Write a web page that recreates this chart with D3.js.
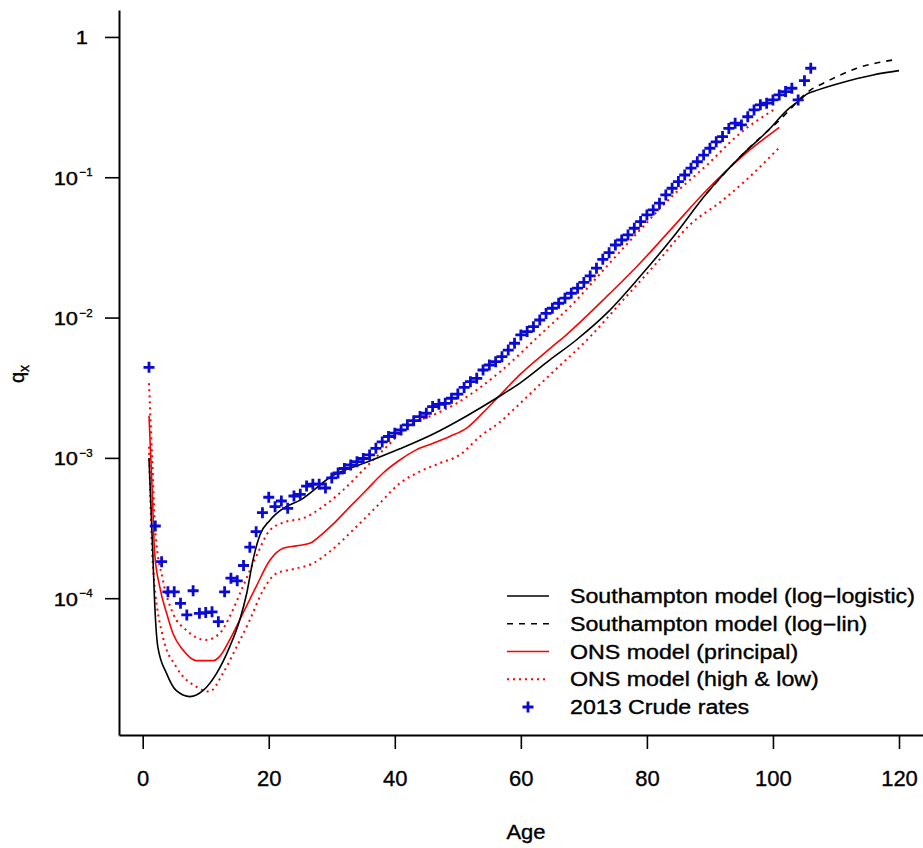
<!DOCTYPE html>
<html>
<head>
<meta charset="utf-8">
<script src="https://cdn.jsdelivr.net/npm/d3@7"></script>
<style>
  body { margin: 0; background: #fff; }
  svg { display: block; font-family: "Liberation Sans", Arial, Helvetica, sans-serif; }
  text { stroke: #000; stroke-width: 0.35px; }
</style>
</head>
<body>
<script>
// crude death rates 2013, ages 1..106
var crudeAges = [1,2,3,4,5,6,7,8,9,10,11,12,13,14,15,16,17,18,19,20,
  21,22,23,24,25,26,27,28,29,30,31,32,33,34,35,36,37,38,39,40,
  41,42,43,44,45,46,47,48,49,50,51,52,53,54,55,56,57,58,59,60,
  61,62,63,64,65,66,67,68,69,70,71,72,73,74,75,76,77,78,79,80,
  81,82,83,84,85,86,87,88,89,90,91,92,93,94,95,96,97,98,99,100,
  101,102,103,104,105,106];
var crudeRates = [4.42e-3,3.27e-4,1.82e-4,1.11e-4,1.11e-4,9.2e-5,7.6e-5,1.13e-4,7.8e-5,7.9e-5,
  8.0e-5,6.8e-5,1.11e-4,1.39e-4,1.33e-4,1.71e-4,2.31e-4,2.98e-4,4.07e-4,5.24e-4,
  4.49e-4,4.93e-4,4.37e-4,5.35e-4,5.5e-4,6.3e-4,6.5e-4,6.5e-4,6.1e-4,7.2e-4,
  7.8e-4,8.4e-4,8.9e-4,9.4e-4,9.9e-4,1.05e-3,1.17e-3,1.30e-3,1.42e-3,1.50e-3,
  1.58e-3,1.72e-3,1.84e-3,1.97e-3,2.08e-3,2.32e-3,2.41e-3,2.45e-3,2.66e-3,2.85e-3,
  3.18e-3,3.49e-3,3.69e-3,4.23e-3,4.59e-3,4.85e-3,5.26e-3,5.87e-3,6.56e-3,7.52e-3,
  7.94e-3,8.61e-3,9.61e-3,1.07e-2,1.165e-2,1.265e-2,1.374e-2,1.49e-2,1.62e-2,1.78e-2,
  1.98e-2,2.25e-2,2.6e-2,2.9e-2,3.29e-2,3.57e-2,3.88e-2,4.33e-2,4.83e-2,5.39e-2,
  5.85e-2,6.53e-2,7.48e-2,8.35e-2,9.31e-2,0.1038,0.116,0.129,0.144,0.161,
  0.179,0.195,0.223,0.243,0.236,0.270,0.302,0.328,0.337,0.356,
  0.386,0.408,0.431,0.356,0.488,0.598];

// Southampton model (log-logistic)
var sotonAges = [1,1.6,1.9,2.4,3.8,5.3,7.5,9.6,11.7,13.8,15.4,16.5,17.5,18.6,20.2,22.3,25,30,35.5,40.8,
  46.1,51.4,56.1,59.8,64.6,68.8,73.6,78.9,84.2,89.5,94.8,99.3,102.2,104.3,105.3,106.4,110.6,115.9,120];
var sotonQ = [1.0e-3,2.09e-4,9.2e-5,4.5e-5,2.9e-5,2.2e-5,1.99e-5,2.2e-5,2.9e-5,4.5e-5,7.0e-5,1.08e-4,1.87e-4,2.82e-4,3.6e-4,4.37e-4,5.0e-4,7.4e-4,9.3e-4,1.16e-3,
  1.48e-3,1.99e-3,2.66e-3,3.40e-3,4.99e-3,6.92e-3,1.07e-2,1.96e-2,3.77e-2,7.69e-2,0.140,0.217,0.300,0.356,0.390,0.408,0.468,0.536,0.575];

// Southampton model (log-lin), only where it leaves the log-logistic curve
var loglinAges = [89.5,94.8,99.3,100.8,102.4,104.5,106,108,113.3,119.1];
var loglinQ = [7.69e-2,0.140,0.217,0.249,0.294,0.37,0.42,0.468,0.598,0.686];

// ONS model (principal)
var onsAges = [1,1.5,1.9,2.7,3.8,4.8,6.4,8.5,11.2,12.2,13.8,15.9,18.0,20.2,22.3,24.4,26.5,28.6,30,32.9,
  35.5,38.1,40.8,43.4,46.1,48.7,51.4,54.0,56.7,59.8,64.6,67.3,73.6,78.9,84.2,89.5,94.8,101];
var onsQ = [2.0e-3,6.0e-4,2.09e-4,1.21e-4,7.8e-5,5.6e-5,4.27e-5,3.59e-5,3.59e-5,3.83e-5,5.04e-5,7.8e-5,1.21e-4,1.87e-4,2.27e-4,2.36e-4,2.46e-4,2.9e-4,3.3e-4,4.49e-4,
  5.9e-4,7.77e-4,9.66e-4,1.14e-3,1.27e-3,1.42e-3,1.63e-3,2.1e-3,2.8e-3,3.9e-3,6.0e-3,7.6e-3,1.41e-2,2.44e-2,4.45e-2,8.11e-2,0.137,0.227];

// ONS model high
var onsHighAges = [1,1.5,2,3.2,4.8,6.9,10.0,12.2,13.8,15.9,18.0,20.2,22.8,25.4,28.6,31.8,35.5,38.7,42.4,46.1,
  49.8,53.0,56.7,63.0,68.3,73.6,78.9,84.2,89.5,94.8,100.5];
var onsHighQ = [3.4e-3,1.0e-3,3.0e-4,1.35e-4,7.8e-5,5.93e-5,5.04e-5,5.6e-5,7.38e-5,1.21e-4,1.98e-4,3.06e-4,3.51e-4,3.71e-4,4.49e-4,5.9e-4,8.65e-4,1.20e-3,1.72e-3,2.02e-3,
  2.45e-3,3.05e-3,4.11e-3,7.5e-3,1.26e-2,2.31e-2,4.21e-2,7.48e-2,0.122,0.206,0.31];

// ONS model low
var onsLowAges = [1,1.6,3.2,5.3,8.5,10.6,12.7,14.9,17.0,19.1,21.2,24.4,27.0,29.7,33.9,37.1,40.8,43.4,47.1,50.3,
  53.5,56.7,58.8,64.6,71.0,76.2,81.5,86.8,92.1,95.8,100.9];
var onsLowQ = [1.2e-3,1.77e-4,5.32e-5,3.25e-5,2.34e-5,2.16e-5,2.9e-5,4.5e-5,7.0e-5,1.14e-4,1.50e-4,1.63e-4,1.77e-4,2.15e-4,3.23e-4,4.49e-4,6.59e-4,7.77e-4,9.15e-4,1.05e-3,
  1.42e-3,1.8e-3,2.2e-3,3.9e-3,7.31e-3,1.33e-2,2.44e-2,4.57e-2,6.9e-2,9.6e-2,0.161];

var xTicks = [0, 20, 40, 60, 80, 100, 120];
var yTickPowers = [0, -1, -2, -3, -4];

var legendLabels = ["Southampton model (log\u2212logistic)", "Southampton model (log\u2212lin)",
  "ONS model (principal)", "ONS model (high & low)", "2013 Crude rates"];

(function() {
  var width = 923;
  var height = 848;

  var svg = d3.select("body")
    .append("svg")
    .attr("width", width)
    .attr("height", height);

  var x = d3.scaleLinear().domain([-3.76, 124.76]).range([119, 929]);
  var y = d3.scaleLog().domain([Math.pow(10, -4.975), Math.pow(10, 0.192)]).range([735, 10]);

  // axes
  var xAxis = svg.append("g")
    .attr("transform", "translate(0,735)")
    .call(d3.axisBottom(x).tickValues(xTicks).tickSize(14).tickSizeOuter(0).tickPadding(21))
    .attr("font-family", null);
  xAxis.selectAll("text").attr("font-size", 22).attr("fill", "#000");

  var yAxis = svg.append("g")
    .attr("transform", "translate(119,0)")
    .call(d3.axisLeft(y).tickValues(yTickPowers.map(function(p) { return Math.pow(10, p); }))
      .tickSize(14).tickSizeOuter(0).tickFormat(function() { return ""; }))
    .attr("font-family", null);

  yAxis.selectAll(".tick text").remove();
  yAxis.selectAll(".tick").each(function(d) {
    var t = d3.select(this);
    var p = Math.round(Math.log10(d));
    if (p === 0) {
      t.append("text")
        .attr("transform", "translate(-31,7) scale(1.25,1)")
        .attr("text-anchor", "end")
        .attr("font-size", 17.5)
        .attr("fill", "#000")
        .text("1");
    } else {
      t.append("text")
        .attr("transform", "translate(-41,7) scale(1.25,1)")
        .attr("text-anchor", "end")
        .attr("font-size", 17.5)
        .attr("fill", "#000")
        .text("10");
      t.append("text")
        .attr("x", -39.5)
        .attr("y", -1.5)
        .attr("text-anchor", "start")
        .attr("font-size", 11.5)
        .attr("fill", "#000")
        .text("\u2212" + (-p));
    }
  });

  svg.selectAll(".domain").attr("stroke-width", 2);
  svg.selectAll(".tick line").attr("stroke-width", 1.6);

  // axis titles
  svg.append("text")
    .attr("transform", "translate(526,839) scale(1.1,1)")
    .attr("text-anchor", "middle")
    .attr("font-size", 20)
    .text("Age");

  var qlab = svg.append("text")
    .attr("transform", "translate(24,374) rotate(-90)")
    .attr("text-anchor", "middle")
    .attr("font-size", 20);
  qlab.append("tspan").text("q");
  qlab.append("tspan").attr("font-size", 14).attr("dy", 5).text("x");

  function pairs(ages, vals) {
    return ages.map(function(a, i) { return [a, vals[i]]; });
  }

  var line = d3.line()
    .x(function(d) { return x(d[0]); })
    .y(function(d) { return y(d[1]); })
    .curve(d3.curveMonotoneX);

  var g = svg.append("g");

  g.append("path").datum(pairs(onsLowAges, onsLowQ))
    .attr("d", line).attr("fill", "none").attr("stroke", "#ff0000")
    .attr("stroke-width", 2).attr("stroke-dasharray", "2,4");
  g.append("path").datum(pairs(onsHighAges, onsHighQ))
    .attr("d", line).attr("fill", "none").attr("stroke", "#ff0000")
    .attr("stroke-width", 2).attr("stroke-dasharray", "2,4");
  g.append("path").datum(pairs(onsAges, onsQ))
    .attr("d", line).attr("fill", "none").attr("stroke", "#ff0000")
    .attr("stroke-width", 1.6);
  g.append("path").datum(pairs(loglinAges, loglinQ))
    .attr("d", line).attr("fill", "none").attr("stroke", "#000")
    .attr("stroke-width", 1.6).attr("stroke-dasharray", "6,6");
  g.append("path").datum(pairs(sotonAges, sotonQ))
    .attr("d", line).attr("fill", "none").attr("stroke", "#000")
    .attr("stroke-width", 1.6);

  // crude rates as "+"
  var plus = "M-5.5,0H5.5M0,-5.5V5.5";
  g.selectAll(".crude")
    .data(pairs(crudeAges, crudeRates))
    .enter().append("path")
    .attr("class", "crude")
    .attr("transform", function(d) { return "translate(" + x(d[0]) + "," + y(d[1]) + ")"; })
    .attr("d", plus)
    .attr("stroke", "#0a0ad2")
    .attr("stroke-width", 2.8)
    .attr("fill", "none");

  // legend
  var legStyles = [
    { stroke: "#000", dash: null, w: 1.6 },
    { stroke: "#000", dash: "6,6", w: 1.6 },
    { stroke: "#ff0000", dash: null, w: 1.6 },
    { stroke: "#ff0000", dash: "2,4", w: 2 },
    { stroke: "#0a0ad2", dash: null, w: 2.8, point: true }
  ];
  var leg = svg.append("g");
  legendLabels.forEach(function(lab, i) {
    var ly = 596 + i * 27.75;
    var s = legStyles[i];
    if (s.point) {
      leg.append("path")
        .attr("transform", "translate(528," + ly + ")")
        .attr("d", plus).attr("stroke", s.stroke).attr("stroke-width", s.w).attr("fill", "none");
    } else {
      leg.append("line")
        .attr("x1", 507).attr("x2", 549).attr("y1", ly).attr("y2", ly)
        .attr("stroke", s.stroke).attr("stroke-width", s.w)
        .attr("stroke-dasharray", s.dash);
    }
    leg.append("text")
      .attr("transform", "translate(570," + (ly + 7.2) + ") scale(1.19,1)")
      .attr("font-size", 19.5)
      .text(lab);
  });
})();
</script>
</body>
</html>
